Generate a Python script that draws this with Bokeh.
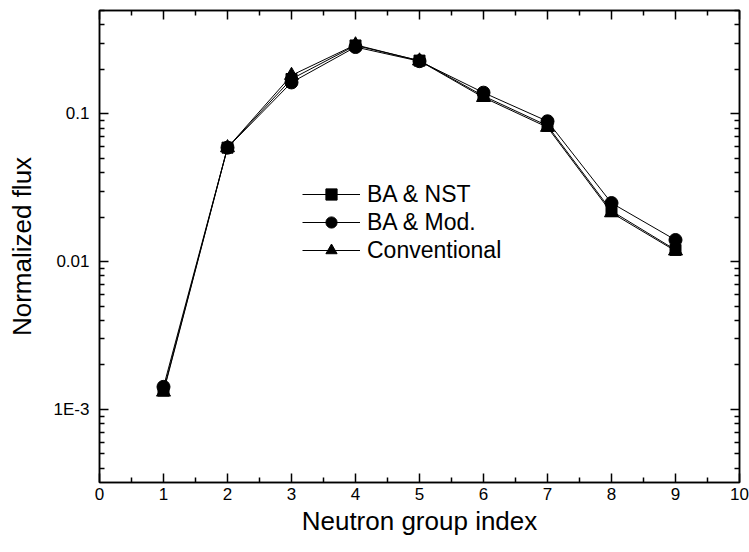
from bokeh.plotting import figure
from bokeh.models import (FixedTicker, LinearAxis, LogAxis, Legend, LegendItem, Range1d)
from bokeh.embed import file_html
from bokeh.resources import INLINE

# Data
groups = [1, 2, 3, 4, 5, 6, 7, 8, 9]
ba_nst = [0.00134, 0.059, 0.172, 0.290, 0.229, 0.132, 0.083, 0.022, 0.0120]
ba_mod = [0.00142, 0.059, 0.163, 0.283, 0.227, 0.139, 0.089, 0.0249, 0.0140]
conventional = [0.00131, 0.059, 0.182, 0.293, 0.228, 0.129, 0.081, 0.0214, 0.0118]
series_names = ["BA & NST", "BA & Mod.", "Conventional"]

x_ticks = list(range(0, 11))
x_minor = [i + 0.5 for i in range(0, 10)]
y_ticks = [0.001, 0.01, 0.1]
y_tick_labels = {0.001: "1E-3", 0.01: "0.01", 0.1: "0.1"}
y_minor = ([m * 1e-4 for m in range(4, 10)] + [m * 1e-3 for m in range(2, 10)]
           + [m * 1e-2 for m in range(2, 10)] + [m * 1e-1 for m in range(2, 6)])

FONT = "Liberation Sans"

p = figure(width=749, height=552, y_axis_type="log",
           x_range=Range1d(0, 10), y_range=Range1d(0.00032, 0.5),
           output_backend="svg", toolbar_location=None,
           min_border_left=99, min_border_right=10, min_border_top=10, min_border_bottom=70)
p.xgrid.visible = False
p.ygrid.visible = False
p.outline_line_color = "black"
p.outline_line_width = 1.5
p.background_fill_color = "white"
p.border_fill_color = "white"

def style_axis(ax, labels=True):
    ax.axis_line_width = 1.5
    ax.axis_line_color = "black"
    ax.major_tick_in = 9
    ax.major_tick_out = 0
    ax.minor_tick_in = 5
    ax.minor_tick_out = 0
    ax.major_tick_line_width = 1.5
    ax.minor_tick_line_width = 1.5
    ax.major_tick_line_color = "black"
    ax.minor_tick_line_color = "black"
    ax.major_label_text_font = FONT
    ax.major_label_text_font_size = "17px"
    ax.major_label_text_color = "black"
    ax.major_label_standoff = 10
    ax.axis_label_text_font = FONT
    ax.axis_label_text_font_size = "26px"
    ax.axis_label_text_font_style = "normal"
    ax.axis_label_text_color = "black"
    if not labels:
        ax.major_label_text_font_size = "0px"
        ax.major_label_text_alpha = 0

xa = p.xaxis[0]
xa.ticker = FixedTicker(ticks=x_ticks, minor_ticks=x_minor)
style_axis(xa)
xa.axis_label = "Neutron group index"
xa.major_label_standoff = 5
xa.axis_label_standoff = 3

ya = p.yaxis[0]
ya.ticker = FixedTicker(ticks=y_ticks, minor_ticks=y_minor)
ya.major_label_overrides = y_tick_labels
style_axis(ya)
ya.axis_label = "Normalized flux"
ya.axis_label_standoff = 14

top = LinearAxis(ticker=FixedTicker(ticks=x_ticks, minor_ticks=x_minor))
style_axis(top, labels=False)
top.major_label_standoff = 0
p.add_layout(top, "above")

right = LogAxis(ticker=FixedTicker(ticks=y_ticks, minor_ticks=y_minor))
style_axis(right, labels=False)
right.major_label_standoff = 0
p.add_layout(right, "right")

items = []
specs = [(ba_nst, "square", 11), (ba_mod, "circle", 13), (conventional, "triangle", 14)]
for (vals, marker, size), name in zip(specs, series_names):
    l = p.line(groups, vals, line_color="black", line_width=1)
    s = p.scatter(groups, vals, marker=marker, size=size,
                  fill_color="black", line_color="black")
    items.append(LegendItem(label=name, renderers=[l, s]))

legend = Legend(items=items, location=(203, 218), orientation="vertical",
                background_fill_alpha=0, border_line_alpha=0,
                label_text_font=FONT, label_text_font_size="23px",
                label_text_color="black",
                glyph_width=58, glyph_height=28, label_height=28,
                label_standoff=7, spacing=0, padding=0, margin=0)
p.add_layout(legend, "center")

open("out.html", "w").write(file_html(p, INLINE))
